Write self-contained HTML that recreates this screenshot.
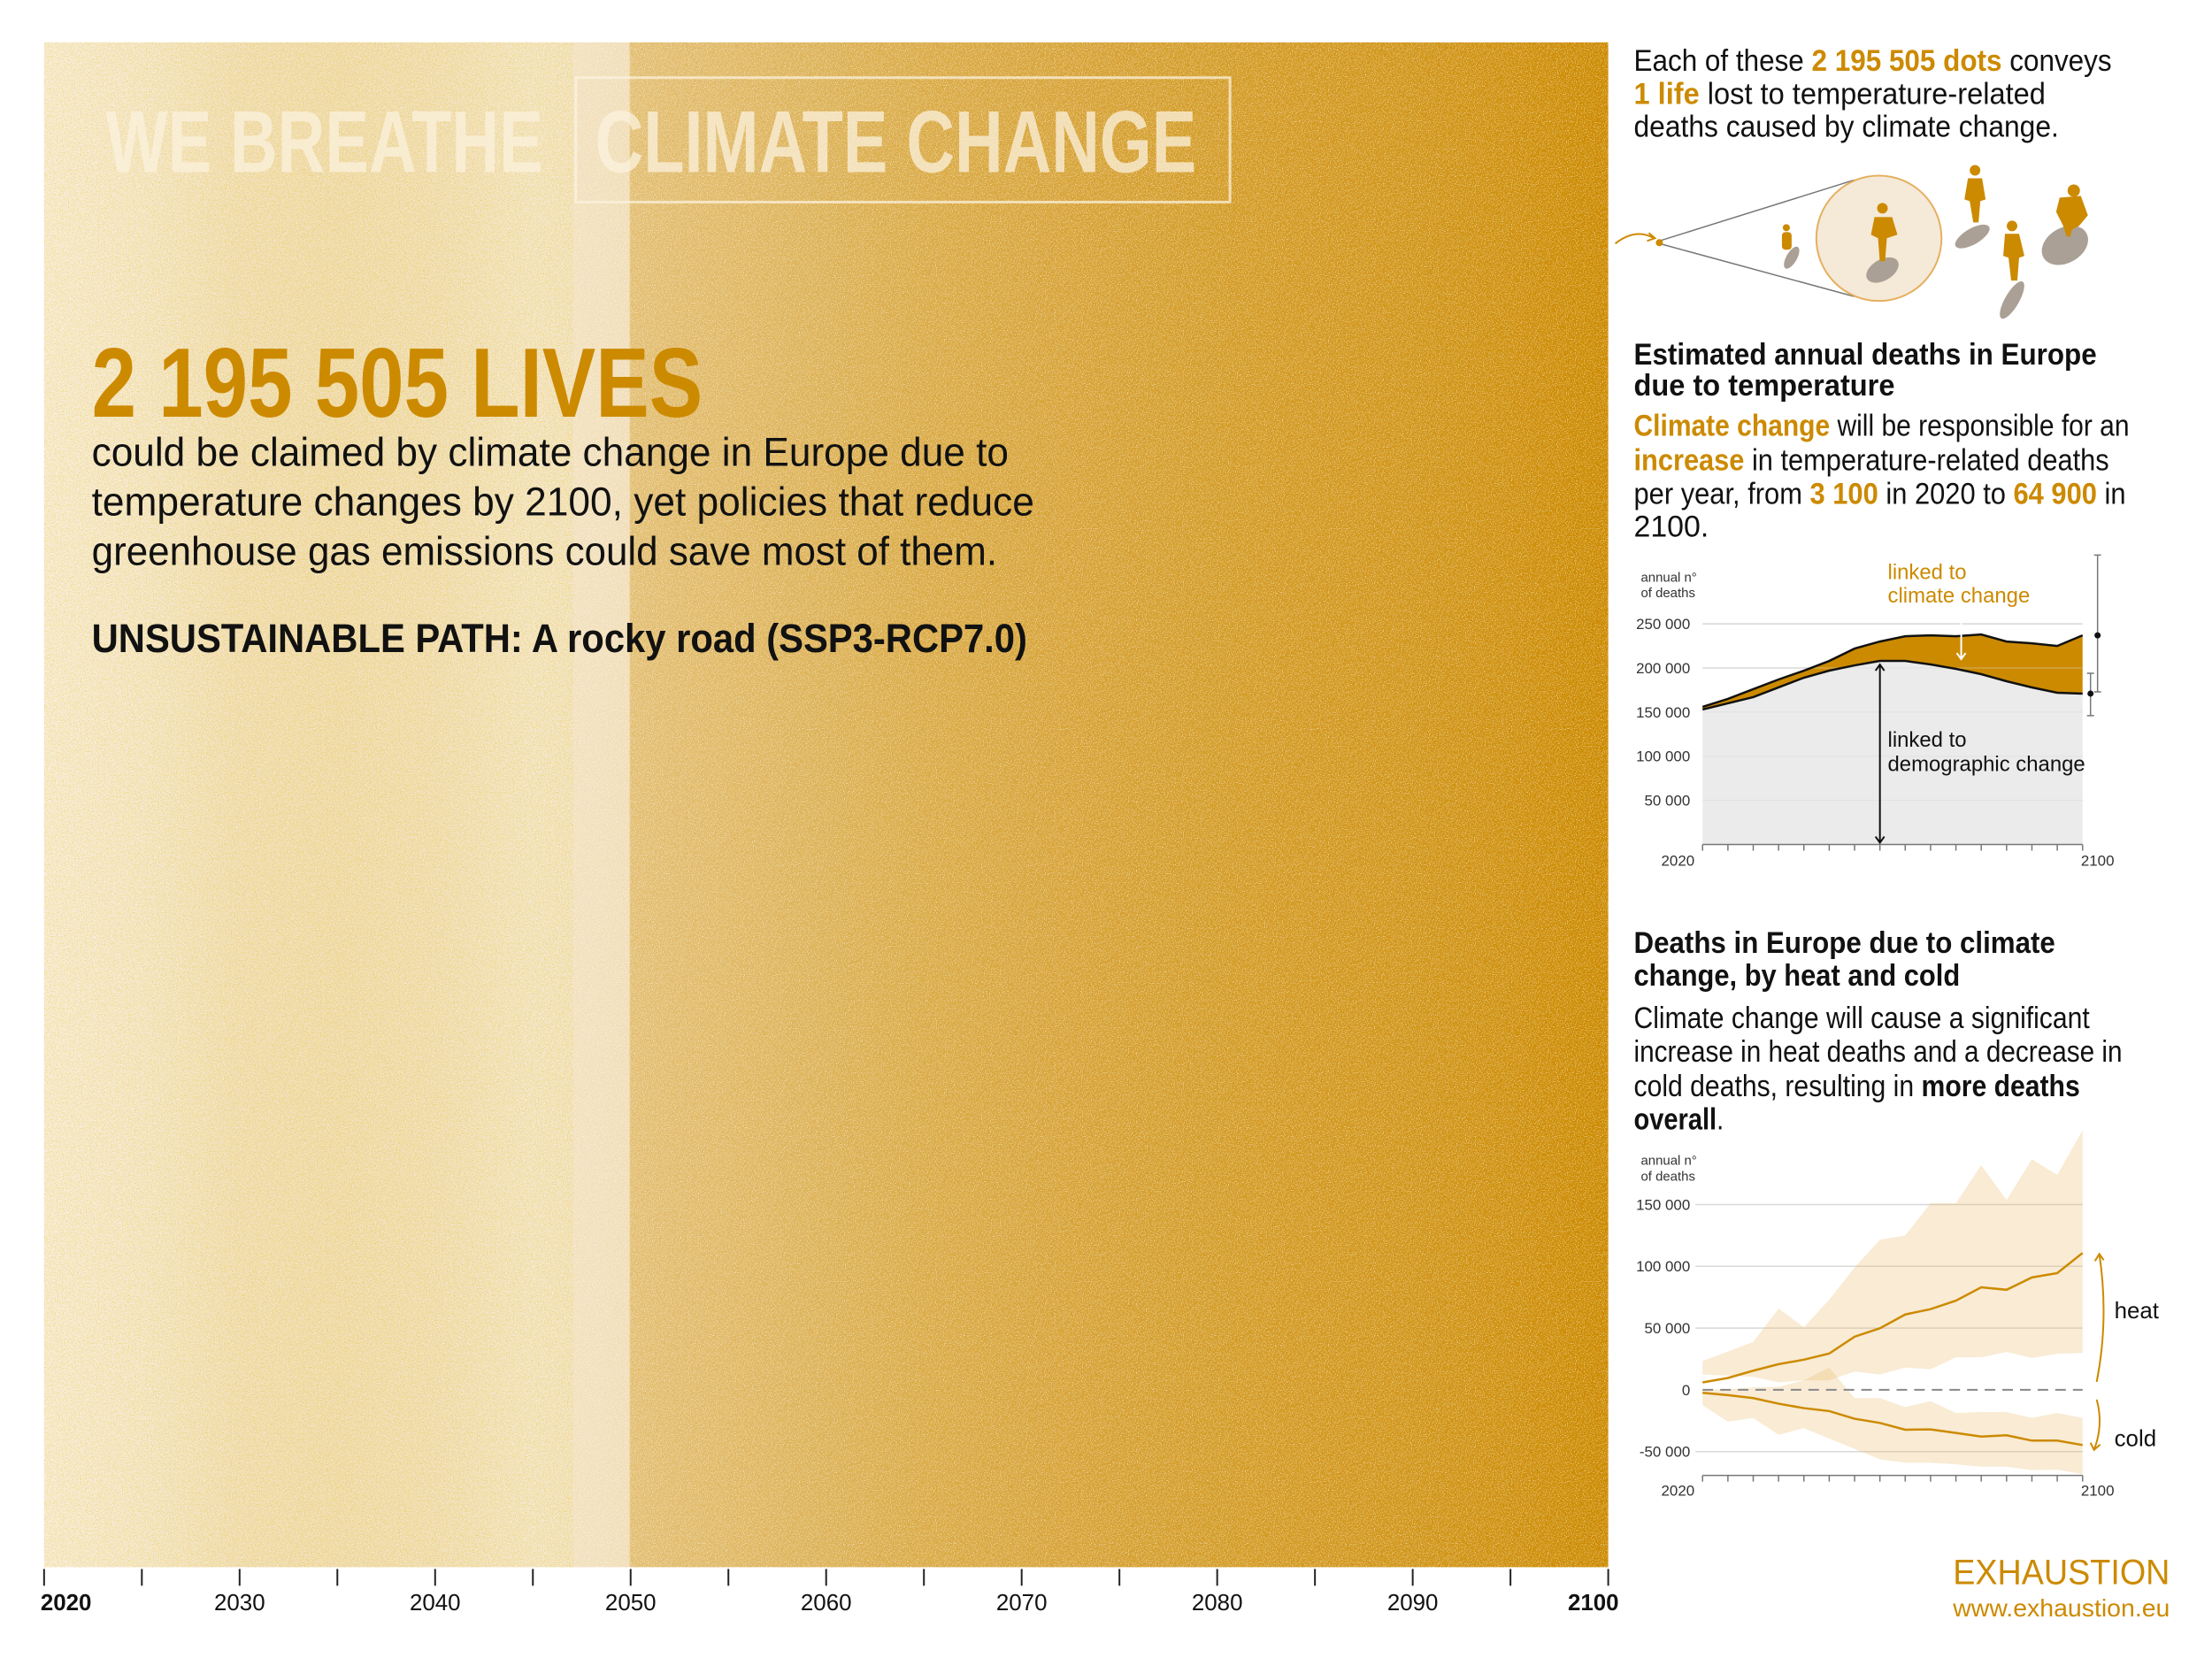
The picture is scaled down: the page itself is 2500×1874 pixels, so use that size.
<!DOCTYPE html>
<html><head><meta charset="utf-8">
<style>
html,body{margin:0;padding:0;background:#fff;}
svg{display:block;font-family:"Liberation Sans Narrow","Liberation Sans",sans-serif;}
</style></head>
<body>
<svg id="root" width="2500" height="1874" viewBox="0 0 2500 1874" xmlns="http://www.w3.org/2000/svg">
<defs>
  <linearGradient id="dens" x1="0" x2="1" y1="0" y2="0"></linearGradient>
  <filter id="speck" x="0" y="0" width="100%" height="100%">
    <feTurbulence type="fractalNoise" baseFrequency="0.9" numOctaves="1" seed="3"/>
    <feColorMatrix type="matrix" values="0 0 0 0 1  0 0 0 0 1  0 0 0 0 1  11 0 0 0 -6"/>
  </filter>
  <filter id="speck2" x="0" y="0" width="100%" height="100%">
    <feTurbulence type="fractalNoise" baseFrequency="0.85" numOctaves="1" seed="11"/>
    <feColorMatrix type="matrix" values="0 0 0 0 0.8  0 0 0 0 0.54  0 0 0 0 0  11 0 0 0 -6"/>
  </filter>
</defs>
<g transform="scale(0.9965,0.9974)">

<g>
  <rect x="50" y="48" width="1774" height="1728" fill="url(#dens)"/>
  <rect x="50" y="48" width="1774" height="1728" filter="url(#speck)" opacity="0.45"/>
  <rect x="50" y="48" width="600" height="1728" filter="url(#speck2)" opacity="0.35"/>
</g>

<g fill="#fbf1de" fill-opacity="0.75" font-weight="bold" font-size="100">
  <text x="120" y="195" textLength="496" lengthAdjust="spacingAndGlyphs">WE BREATHE</text>
  <rect x="653" y="88" width="742" height="141" fill="none" stroke="#fbf1de" stroke-opacity="0.75" stroke-width="3"/>
  <text x="675" y="195" textLength="682" lengthAdjust="spacingAndGlyphs">CLIMATE CHANGE</text>
</g>

<g>
  <text x="104" y="472" font-size="112" font-weight="bold" fill="#cc8a00" textLength="693" lengthAdjust="spacingAndGlyphs">2 195 505 LIVES</text>
  <text x="104" y="528" font-size="46" fill="#111" textLength="1040" lengthAdjust="spacingAndGlyphs">could be claimed by climate change in Europe due to</text>
  <text x="104" y="584" font-size="46" fill="#111" textLength="1069" lengthAdjust="spacingAndGlyphs">temperature changes by 2100, yet policies that reduce</text>
  <text x="104" y="640" font-size="46" fill="#111" textLength="1027" lengthAdjust="spacingAndGlyphs">greenhouse gas emissions could save most of them.</text>
  <text x="104" y="739" font-size="46" font-weight="bold" fill="#111" textLength="1061" lengthAdjust="spacingAndGlyphs">UNSUSTAINABLE PATH: A rocky road (SSP3-RCP7.0)</text>
</g>

<g id="timeAxis"></g>

<g font-size="34" fill="#111">
  <text x="1853" y="80" textLength="542" lengthAdjust="spacingAndGlyphs">Each of these <tspan fill="#cc8a00" font-weight="bold">2 195 505 dots</tspan> conveys</text>
  <text x="1853" y="118" textLength="467" lengthAdjust="spacingAndGlyphs"><tspan fill="#cc8a00" font-weight="bold">1 life</tspan> lost to temperature-related</text>
  <text x="1853" y="155" textLength="482" lengthAdjust="spacingAndGlyphs">deaths caused by climate change.</text>

  <text x="1853" y="413" font-weight="bold" textLength="525" lengthAdjust="spacingAndGlyphs">Estimated annual deaths in Europe</text>
  <text x="1853" y="448" font-weight="bold" textLength="296" lengthAdjust="spacingAndGlyphs">due to temperature</text>
  <text x="1853" y="494" textLength="562" lengthAdjust="spacingAndGlyphs"><tspan fill="#cc8a00" font-weight="bold">Climate change</tspan> will be responsible for an</text>
  <text x="1853" y="533" textLength="539" lengthAdjust="spacingAndGlyphs"><tspan fill="#cc8a00" font-weight="bold">increase</tspan> in temperature-related deaths</text>
  <text x="1853" y="571" textLength="558" lengthAdjust="spacingAndGlyphs">per year, from <tspan fill="#cc8a00" font-weight="bold">3 100</tspan> in 2020 to <tspan fill="#cc8a00" font-weight="bold">64 900</tspan> in</text>
  <text x="1853" y="608">2100.</text>

  <text x="1853" y="1080" font-weight="bold" textLength="478" lengthAdjust="spacingAndGlyphs">Deaths in Europe due to climate</text>
  <text x="1853" y="1117" font-weight="bold" textLength="370" lengthAdjust="spacingAndGlyphs">change, by heat and cold</text>
  <text x="1853" y="1165" textLength="517" lengthAdjust="spacingAndGlyphs">Climate change will cause a significant</text>
  <text x="1853" y="1203" textLength="554" lengthAdjust="spacingAndGlyphs">increase in heat deaths and a decrease in</text>
  <text x="1853" y="1242" textLength="506" lengthAdjust="spacingAndGlyphs">cold deaths, resulting in <tspan font-weight="bold">more deaths</tspan></text>
  <text x="1853" y="1280" textLength="102" lengthAdjust="spacingAndGlyphs"><tspan font-weight="bold">overall</tspan>.</text>

  <text x="2461" y="1795" text-anchor="end" font-size="40" fill="#cc8a00" textLength="246" lengthAdjust="spacingAndGlyphs">EXHAUSTION</text>
  <text x="2461" y="1832" text-anchor="end" font-size="28" fill="#cc8a00" textLength="246" lengthAdjust="spacingAndGlyphs">www.exhaustion.eu</text>
</g>

<g>
  <path d="M1832,276 Q1855,258 1876,270" fill="none" stroke="#cc8a00" stroke-width="2"/>
  <path d="M1870,264 L1877,270 L1868,273" fill="none" stroke="#cc8a00" stroke-width="2"/>
  <line x1="1882" y1="273" x2="2103" y2="204" stroke="#777" stroke-width="1.5"/>
  <line x1="1882" y1="276" x2="2103" y2="336" stroke="#777" stroke-width="1.5"/>
  <circle cx="1882" cy="275" r="4" fill="#cc8a00"/>
  <circle cx="2131" cy="270" r="71" fill="#f5e9d8" stroke="#e5b060" stroke-width="2"/>
  <g fill="#aaa095">
    <ellipse cx="2032" cy="292" rx="6" ry="14" transform="rotate(30 2032 292)"/>
    <ellipse cx="2135" cy="306" rx="12" ry="20" transform="rotate(60 2135 306)"/>
    <ellipse cx="2237" cy="268" rx="9" ry="22" transform="rotate(60 2237 268)"/>
    <ellipse cx="2282" cy="340" rx="8" ry="24" transform="rotate(30 2282 340)"/>
    <ellipse cx="2342" cy="278" rx="20" ry="28" transform="rotate(60 2342 278)"/>
  </g>
  <g fill="#cc8a00">
    <circle cx="2026" cy="258" r="4"/><rect x="2021" y="263" width="11" height="20" rx="4"/>
    <circle cx="2135" cy="236" r="6"/><path d="M2126,246 L2146,246 L2152,266 L2140,270 L2138,296 L2132,296 L2130,270 L2122,266 Z"/>
    <circle cx="2240" cy="193" r="6"/><path d="M2232,202 L2248,202 L2252,226 L2246,228 L2244,252 L2238,252 L2234,228 L2228,226 Z"/>
    <circle cx="2282" cy="256" r="6"/><path d="M2274,265 L2290,265 L2296,290 L2290,292 L2288,318 L2281,318 L2278,292 L2272,290 Z"/>
    <circle cx="2352" cy="216" r="7"/><path d="M2336,224 L2360,222 L2368,244 L2358,256 L2350,260 L2348,268 L2344,268 L2340,256 L2332,240 Z"/>
  </g>
</g>

<g id="chart1"></g>
<g id="chart2"></g>
</g>
</svg>

<script>
const densityYears = [2020,2025,2030,2035,2040,2045,2050,2055,2060,2065,2070,2075,2080,2085,2090,2095,2100];
const densityValues = [0.18,0.22,0.30,0.32,0.30,0.24,0.55,0.60,0.66,0.72,0.76,0.80,0.84,0.87,0.90,0.94,1.0];
const axisTickYears = [2020,2025,2030,2035,2040,2045,2050,2055,2060,2065,2070,2075,2080,2085,2090,2095,2100];
const axisLabelYears = [2020,2030,2040,2050,2060,2070,2080,2090,2100];

const c1Points = [0,1,2,3,4,5,6,7,8,9,10,11,12,13,14,15];
const c1Demographic = [153,160,167,178,189,197,203,208,208,204,199,193,185,178,172,171];
const c1Total = [156,165,176,187,197,208,222,230,236,237,236,238,230,228,225,237];
const c1YTicks = [50,100,150,200,250];
const c1YLabels = ["50 000","100 000","150 000","200 000","250 000"];

const c2Heat = [6,9.6,15.5,20.8,24.4,29.4,43,49.8,61,65.3,72.2,83,81,91,94.5,110.8];
const c2HeatHigh = [23.4,31,38.8,65.8,50.7,73,99,121.5,124.9,151,151,181.8,153.6,186.6,174,210];
const c2HeatLow = [12.4,11.5,10.5,6,7.7,7.7,14.8,12.4,18,16.7,26.3,26.3,30.6,25.8,29.2,29.9];
const c2Cold = [-2.4,-4.3,-6.7,-11.2,-14.8,-17.2,-23.4,-26.8,-32.3,-32,-34.9,-37.8,-36.8,-41.1,-41.1,-44.7];
const c2ColdHigh = [0.5,0.5,2,2.4,7.7,18,-6.7,-6.7,-13.9,-9.1,-18.7,-18,-18,-22.7,-18.7,-22.7];
const c2ColdLow = [-12.4,-25.8,-22.7,-36.4,-31,-39.5,-47.8,-56.2,-59,-59,-60.3,-62.2,-62.2,-65,-64.6,-68.2];
const c2YTicks = [-50,0,50,100,150];
const c2YLabels = ["-50 000","0","50 000","100 000","150 000"];

const NS = "http://www.w3.org/2000/svg";
function mk(tag, attrs, parent){const e=document.createElementNS(NS,tag);for(const k in attrs)e.setAttribute(k,attrs[k]);parent.appendChild(e);return e;}

const grad = document.getElementById('dens');
function mix(d){const r=Math.round(255+(204-255)*d),g=Math.round(255+(138-255)*d),b=Math.round(255+(0-255)*d);return `rgb(${r},${g},${b})`;}
const yrX = y => (y-2020)/80;
densityYears.forEach((y,i)=>{
  if(y===2050){ mk('stop',{offset:yrX(y)-0.001,'stop-color':mix(densityValues[i-1]*0.95+0.05)},grad); }
  mk('stop',{offset:yrX(y),'stop-color':mix(densityValues[i])},grad);
});

const ta = document.getElementById('timeAxis');
const tx = y => 50 + (y-2020)*(1774/80);
axisTickYears.forEach(y=>{
  const t=mk('line',{x1:tx(y),x2:tx(y),y1:1778,y2:1797,stroke:'#222','stroke-width':2},ta);
  
  
});
axisLabelYears.forEach(y=>{
  const bold = (y===2020||y===2100);
  const anchor = y===2020?'start':(y===2100?'end':'middle');
  const x = y===2020?tx(y)-4:(y===2100?tx(y)+12:tx(y));
  const t=mk('text',{x:x,y:1825,'font-size':26,'text-anchor':anchor,'font-weight':bold?'bold':'normal',fill:'#111'},ta);
  t.textContent=y;
  
  
});

const g1 = document.getElementById('chart1');
const x1 = i => 1931 + i*(431/15);
const y1 = v => 957 - v*1.0;
c1YTicks.forEach((v,i)=>{
  const l=mk('line',{x1:1931,x2:2362,y1:y1(v),y2:y1(v),stroke:'#d8d8d8','stroke-width':1.5},g1);
  
  
  const t=mk('text',{x:1917,y:y1(v)+6,'font-size':17,'text-anchor':'end',fill:'#333'},g1);
  t.textContent=c1YLabels[i];
  
  
});
let ptsD=c1Points.map(i=>`${x1(i)},${y1(c1Demographic[i])}`);
let ptsT=c1Points.map(i=>`${x1(i)},${y1(c1Total[i])}`);
const areaD=mk('polygon',{points:`${x1(0)},${y1(0)} `+ptsD.join(' ')+` ${x1(15)},${y1(0)}`,fill:'#ebebeb'},g1);


const areaC=mk('polygon',{points:ptsT.join(' ')+' '+ptsD.slice().reverse().join(' '),fill:'#cc8a00'},g1);


c1YTicks.forEach(v=>{
  const l=mk('line',{x1:1931,x2:2362,y1:y1(v),y2:y1(v),stroke:'#d8d8d8','stroke-width':1,'stroke-opacity':0.5},g1);
  
  
});
const lD=mk('polyline',{points:ptsD.join(' '),fill:'none',stroke:'#111','stroke-width':2.5},g1);


const lT=mk('polyline',{points:ptsT.join(' '),fill:'none',stroke:'#111','stroke-width':2.5},g1);


const ax1=mk('line',{x1:1931,x2:2362,y1:957,y2:957,stroke:'#777','stroke-width':1.5},g1);


c1Points.forEach(i=>{
  const t=mk('line',{x1:x1(i),x2:x1(i),y1:957,y2:964,stroke:'#777','stroke-width':1.5},g1);
  
  
});
[['2020',1903],['2100',2379]].forEach(([s,x])=>{
  const t=mk('text',{x:x,y:981,'font-size':17,'text-anchor':'middle',fill:'#333'},g1);
  t.textContent=s;
  
  
});
function addText(g,txt,x,y,size,fill,name){const t=mk('text',{x:x,y:y,'font-size':size,fill:fill},g);t.textContent=txt;return t;}
addText(g1,'annual n°',1861,659,15,'#333','chart1-y-title');
addText(g1,'of deaths',1861,677,15,'#333','chart1-y-title-2');
addText(g1,'linked to',2141,656,24,'#cc8a00','climate-label-1');
addText(g1,'climate change',2141,683,24,'#cc8a00','climate-label-2');
addText(g1,'linked to',2141,846,24,'#111','demographic-label-1');
addText(g1,'demographic change',2141,874,24,'#111','demographic-label-2');
const xm=x1(7), xw=x1(10)+6;
const wa=mk('path',{d:`M${xw},690 L${xw},747 M${xw-5},740 L${xw},747 L${xw+5},740`,stroke:'#fff',fill:'none','stroke-width':2},g1);


const da=mk('path',{d:`M${xm},${y1(c1Demographic[7])+4} L${xm},955 M${xm-5},${y1(c1Demographic[7])+11} L${xm},${y1(c1Demographic[7])+4} L${xm+5},${y1(c1Demographic[7])+11} M${xm-5},948 L${xm},955 L${xm+5},948`,stroke:'#111',fill:'none','stroke-width':2},g1);


const eb1=mk('path',{d:'M2379,629 L2379,784 M2375,629 L2383,629 M2375,784 L2383,784',stroke:'#777','stroke-width':1.5,fill:'none'},g1);


const ed1=mk('circle',{cx:2379,cy:y1(c1Total[15]),r:3.5,fill:'#111'},g1);


const eb2=mk('path',{d:'M2371,763 L2371,811 M2367,763 L2375,763 M2367,811 L2375,811',stroke:'#777','stroke-width':1.5,fill:'none'},g1);


const ed2=mk('circle',{cx:2371,cy:y1(c1Demographic[15]),r:3.5,fill:'#111'},g1);



const g2 = document.getElementById('chart2');
const x2 = i => 1931 + i*(431/15);
const y2 = v => 1575 - v*1.4;
c2YTicks.forEach((v,i)=>{
  if(v!==0){
    const l=mk('line',{x1:1923,x2:2362,y1:y2(v),y2:y2(v),stroke:'#d8d8d8','stroke-width':1.5},g2);
    
    
  }
  const t=mk('text',{x:1917,y:y2(v)+6,'font-size':17,'text-anchor':'end',fill:'#333'},g2);
  t.textContent=c2YLabels[i];
  
  
});
function band(hi,lo,name){
  const p=c1Points.map(i=>`${x2(i)},${y2(hi[i])}`).concat(c1Points.slice().reverse().map(i=>`${x2(i)},${y2(lo[i])}`));
  const b=mk('polygon',{points:p.join(' '),fill:'#e8b865','fill-opacity':0.28},g2);
  
  
}
band(c2HeatHigh,c2HeatLow,'heat-range-band');
band(c2ColdHigh,c2ColdLow,'cold-range-band');
const z=mk('line',{x1:1931,x2:2362,y1:y2(0),y2:y2(0),stroke:'#888','stroke-width':2,'stroke-dasharray':'12 8'},g2);


const hl=mk('polyline',{points:c1Points.map(i=>`${x2(i)},${y2(c2Heat[i])}`).join(' '),fill:'none',stroke:'#cc8a00','stroke-width':2.5},g2);


const cl=mk('polyline',{points:c1Points.map(i=>`${x2(i)},${y2(c2Cold[i])}`).join(' '),fill:'none',stroke:'#cc8a00','stroke-width':2.5},g2);


const ax2=mk('line',{x1:1931,x2:2362,y1:1672,y2:1672,stroke:'#777','stroke-width':1.5},g2);


c1Points.forEach(i=>{
  const t=mk('line',{x1:x2(i),x2:x2(i),y1:1672,y2:1679,stroke:'#777','stroke-width':1.5},g2);
  
  
});
[['2020',1903],['2100',2379]].forEach(([s,x])=>{
  const t=mk('text',{x:x,y:1695,'font-size':17,'text-anchor':'middle',fill:'#333'},g2);
  t.textContent=s;
  
  
});
addText(g2,'annual n°',1861,1320,15,'#333','chart2-y-title');
addText(g2,'of deaths',1861,1338,15,'#333','chart2-y-title-2');
addText(g2,'heat',2398,1494,26,'#111','heat-label');
addText(g2,'cold',2398,1639,26,'#111','cold-label');
const ha=mk('path',{d:'M2378,1566 Q2392,1495 2381,1421 M2376,1429 L2381,1421 L2386,1428',fill:'none',stroke:'#cc8a00','stroke-width':2},g2);


const ca=mk('path',{d:'M2378,1586 Q2386,1615 2375,1643 M2371,1635 L2375,1643 L2382,1637',fill:'none',stroke:'#cc8a00','stroke-width':2},g2);


</script>
</body></html>
